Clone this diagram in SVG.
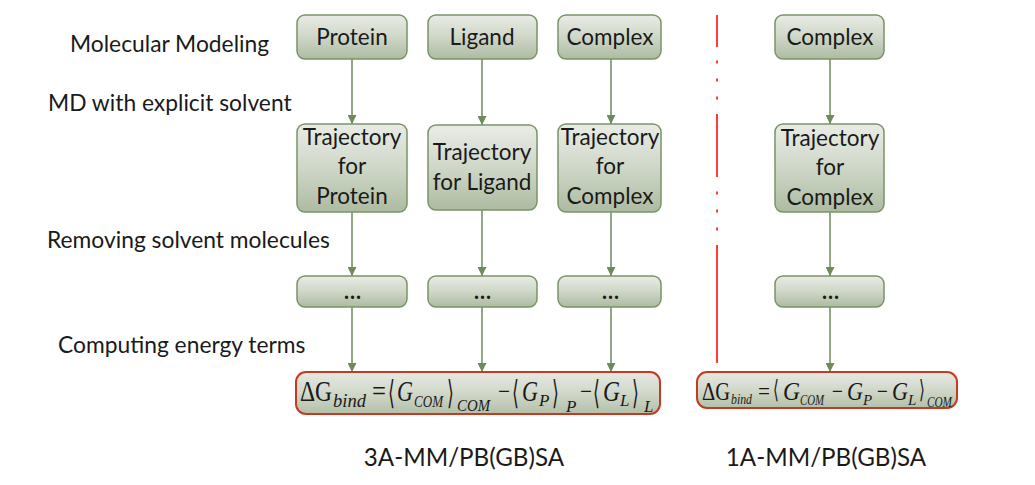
<svg xmlns="http://www.w3.org/2000/svg" width="1035" height="485" viewBox="0 0 1035 485">
<style>
  .lbl { font-family: Lato, "Open Sans", sans-serif; font-size: 22.8px; fill: #1a1a1a; }
  .big { font-size: 24.2px; text-anchor: middle; }
  .bt { font-family: Lato, "Open Sans", sans-serif; font-size: 22.5px; fill: #1a1a1a; text-anchor: middle; }
  .dots { font-family: "Liberation Serif", serif; font-size: 20px; font-weight: bold; fill: #1a1a1a; text-anchor: middle; letter-spacing: 1px; }
  .box { fill: url(#g); stroke: #7a9467; stroke-width: 1.5; }
  .fbox { fill: url(#g2); stroke: #c63a22; stroke-width: 2; }
  .conn { stroke: #6f8a5c; stroke-width: 1.5; fill: none; marker-end: url(#ah); }
  .m { font-family: "Liberation Serif", "DejaVu Serif", serif; fill: #1a1a1a; }
  .i { font-style: italic; }
  .br { font-family: "DejaVu Sans", "Liberation Serif", serif; fill: #1a1a1a; }
</style>
<defs>
  <linearGradient id="g" x1="0" y1="0" x2="0" y2="1">
    <stop offset="0" stop-color="#e9ece6"/>
    <stop offset="0.5" stop-color="#cfd7c8"/>
    <stop offset="1" stop-color="#adbba1"/>
  </linearGradient>
  <linearGradient id="g2" x1="0" y1="0" x2="0" y2="1">
    <stop offset="0" stop-color="#e6e9e2"/>
    <stop offset="0.5" stop-color="#d1d8ca"/>
    <stop offset="1" stop-color="#b3c0a8"/>
  </linearGradient>
  <marker id="ah" markerUnits="userSpaceOnUse" markerWidth="9" markerHeight="9" refX="9" refY="4.5" orient="auto">
    <path d="M0,0 L9,4.5 L0,9 z" fill="#6f8a5c"/>
  </marker>
</defs>
<rect width="1035" height="485" fill="#ffffff"/>

<g id="stage-labels">
  <text class="lbl" x="70" y="52">Molecular Modeling</text>
  <text class="lbl" x="48" y="111">MD with explicit solvent</text>
  <text class="lbl" x="47" y="248">Removing solvent molecules</text>
  <text class="lbl" x="58" y="353">Computing energy terms</text>
</g>

<g id="connectors">
  <line class="conn" x1="352" y1="59" x2="352" y2="124"/>
  <line class="conn" x1="352" y1="212" x2="352" y2="276"/>
  <line class="conn" x1="352" y1="307" x2="352" y2="372"/>
  <line class="conn" x1="482" y1="59" x2="482" y2="125"/>
  <line class="conn" x1="482" y1="210" x2="482" y2="276"/>
  <line class="conn" x1="482" y1="307" x2="482" y2="372"/>
  <line class="conn" x1="611" y1="59" x2="611" y2="124"/>
  <line class="conn" x1="611" y1="212" x2="611" y2="276"/>
  <line class="conn" x1="611" y1="307" x2="611" y2="372"/>
  <line class="conn" x1="830" y1="59" x2="830" y2="124"/>
  <line class="conn" x1="830" y1="212" x2="830" y2="276"/>
  <line class="conn" x1="830" y1="307" x2="830" y2="372"/>
</g>

<g id="divider">
  <path d="M717,15 V47 M717,60.5 V63.5 M717,78.5 V81.5 M717,96.5 V99.5 M717,114 V177 M717,191.5 V194.5 M717,209.5 V212.5 M717,227.5 V230.5 M717,245 V363" stroke="#ff3b3b" stroke-width="2" fill="none"/>
</g>

<g id="protein">
  <rect class="box" x="297" y="15" width="110" height="44" rx="8"/>
  <text class="bt" x="352" y="45">Protein</text>
</g>
<g id="ligand">
  <rect class="box" x="428" y="15" width="109" height="44" rx="8"/>
  <text class="bt" x="482" y="45">Ligand</text>
</g>
<g id="complex">
  <rect class="box" x="558" y="15" width="103" height="44" rx="8"/>
  <text class="bt" x="610" y="45">Complex</text>
</g>
<g id="complex-1a">
  <rect class="box" x="775" y="15" width="109" height="44" rx="8"/>
  <text class="bt" x="830" y="45">Complex</text>
</g>

<g id="traj-protein">
  <rect class="box" x="297" y="124" width="110" height="88" rx="8"/>
  <text class="bt" x="352" y="145">Trajectory</text>
  <text class="bt" x="352" y="174">for</text>
  <text class="bt" x="352" y="204">Protein</text>
</g>
<g id="traj-ligand">
  <rect class="box" x="428" y="125" width="109" height="85" rx="8"/>
  <text class="bt" x="482" y="160">Trajectory</text>
  <text class="bt" x="482" y="190">for Ligand</text>
</g>
<g id="traj-complex">
  <rect class="box" x="558" y="124" width="103" height="88" rx="8"/>
  <text class="bt" x="610" y="145">Trajectory</text>
  <text class="bt" x="610" y="174">for</text>
  <text class="bt" x="610" y="204">Complex</text>
</g>
<g id="traj-complex-1a">
  <rect class="box" x="775" y="124" width="109" height="88" rx="8"/>
  <text class="bt" x="830" y="146">Trajectory</text>
  <text class="bt" x="830" y="175">for</text>
  <text class="bt" x="830" y="205">Complex</text>
</g>

<g id="dots-protein">
  <rect class="box" x="297" y="276" width="110" height="31" rx="8"/>
  <text class="dots" x="353" y="299">...</text>
</g>
<g id="dots-ligand">
  <rect class="box" x="428" y="276" width="109" height="31" rx="8"/>
  <text class="dots" x="483" y="299">...</text>
</g>
<g id="dots-complex">
  <rect class="box" x="558" y="276" width="103" height="31" rx="8"/>
  <text class="dots" x="611" y="299">...</text>
</g>
<g id="dots-complex-1a">
  <rect class="box" x="775" y="276" width="109" height="31" rx="8"/>
  <text class="dots" x="831" y="299">...</text>
</g>

<g id="formula-3a">
  <rect class="fbox" x="296" y="372" width="364" height="42" rx="10"/>
  <text class="m" x="300" y="401" font-size="29" textLength="32" lengthAdjust="spacingAndGlyphs">ΔG</text>
  <text class="m i" x="333" y="407" font-size="19" textLength="33" lengthAdjust="spacingAndGlyphs">bind</text>
  <text class="m" x="372" y="401" font-size="29" textLength="14" lengthAdjust="spacingAndGlyphs">=</text>
  <text class="br" transform="translate(388,404) scale(0.8,1.5)" font-size="22">⟨</text>
  <text class="m i" x="397" y="401" font-size="29" textLength="16" lengthAdjust="spacingAndGlyphs">G</text>
  <text class="m i" x="414" y="407" font-size="17" textLength="29" lengthAdjust="spacingAndGlyphs">COM</text>
  <text class="br" transform="translate(447,404) scale(0.8,1.5)" font-size="22">⟩</text>
  <text class="m i" x="457" y="411" font-size="17" textLength="33" lengthAdjust="spacingAndGlyphs">COM</text>
  <text class="m" x="498" y="401" font-size="29" textLength="12" lengthAdjust="spacingAndGlyphs">−</text>
  <text class="br" transform="translate(512,404) scale(0.8,1.5)" font-size="22">⟨</text>
  <text class="m i" x="522" y="401" font-size="29" textLength="16" lengthAdjust="spacingAndGlyphs">G</text>
  <text class="m i" x="539" y="406" font-size="17">P</text>
  <text class="br" transform="translate(552,404) scale(0.8,1.5)" font-size="22">⟩</text>
  <text class="m i" x="566" y="412" font-size="17">P</text>
  <text class="m" x="580" y="401" font-size="29" textLength="12" lengthAdjust="spacingAndGlyphs">−</text>
  <text class="br" transform="translate(593,404) scale(0.8,1.5)" font-size="22">⟨</text>
  <text class="m i" x="603" y="401" font-size="29" textLength="17" lengthAdjust="spacingAndGlyphs">G</text>
  <text class="m i" x="620" y="406" font-size="17">L</text>
  <text class="br" transform="translate(632,404) scale(0.8,1.5)" font-size="22">⟩</text>
  <text class="m i" x="644" y="412" font-size="17">L</text>
</g>

<g id="formula-1a">
  <rect class="fbox" x="697" y="372" width="260" height="36" rx="10"/>
  <text class="m" x="702" y="400" font-size="26" textLength="28" lengthAdjust="spacingAndGlyphs">ΔG</text>
  <text class="m i" x="731" y="404" font-size="15" textLength="21" lengthAdjust="spacingAndGlyphs">bind</text>
  <text class="m" x="758" y="400" font-size="26" textLength="12" lengthAdjust="spacingAndGlyphs">=</text>
  <text class="br" transform="translate(773,398) scale(0.75,1.25)" font-size="20">⟨</text>
  <text class="m i" x="783" y="400" font-size="26" textLength="17" lengthAdjust="spacingAndGlyphs">G</text>
  <text class="m i" x="800" y="405" font-size="15" textLength="24" lengthAdjust="spacingAndGlyphs">COM</text>
  <text class="m" x="832" y="400" font-size="26" textLength="11" lengthAdjust="spacingAndGlyphs">−</text>
  <text class="m i" x="847" y="400" font-size="26" textLength="16" lengthAdjust="spacingAndGlyphs">G</text>
  <text class="m i" x="863" y="405" font-size="15">P</text>
  <text class="m" x="877" y="400" font-size="26" textLength="11" lengthAdjust="spacingAndGlyphs">−</text>
  <text class="m i" x="892" y="400" font-size="26" textLength="16" lengthAdjust="spacingAndGlyphs">G</text>
  <text class="m i" x="908" y="405" font-size="15">L</text>
  <text class="br" transform="translate(919,398) scale(0.75,1.25)" font-size="20">⟩</text>
  <text class="m i" x="927" y="407" font-size="15" textLength="25" lengthAdjust="spacingAndGlyphs">COM</text>
</g>

<g id="method-labels">
  <text class="lbl big" x="464" y="466">3A-MM/PB(GB)SA</text>
  <text class="lbl big" x="826" y="466">1A-MM/PB(GB)SA</text>
</g>
</svg>
